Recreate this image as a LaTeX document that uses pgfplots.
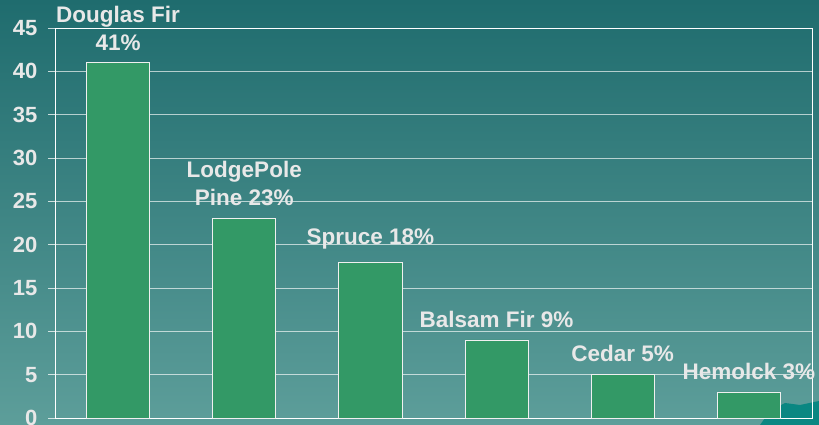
\documentclass[border=0pt]{standalone}
\usepackage{pgfplots}
\pgfplotsset{compat=1.18}
\usepackage{fontspec}
\setmainfont{Liberation Sans}
\definecolor{bgtop}{RGB}{31,108,110}
\definecolor{bgbot}{RGB}{93,158,154}
\definecolor{bargreen}{RGB}{51,153,102}
\definecolor{txt}{RGB}{232,232,232}
\definecolor{blob}{RGB}{10,135,130}
\begin{document}
\begin{tikzpicture}
\useasboundingbox (0,0) rectangle (819pt,425pt);
\shade[top color=bgtop, bottom color=bgbot] (0,0) rectangle (819pt,425pt);
\fill[blob] (760pt,0pt) -- (770pt,14pt) -- (785pt,22pt) -- (800pt,20pt) -- (819pt,24pt) -- (819pt,0pt) -- cycle;
\begin{axis}[
  at={(55pt,7pt)}, anchor=south west, scale only axis,
  width=757pt, height=390pt,
  xmin=-0.5, xmax=5.5, ymin=0, ymax=45,
  ytick={0,5,...,45}, xtick=\empty, ytick pos=left,
  ymajorgrids, grid style={white, opacity=0.65, line width=0.9pt},
  axis line style={white, line width=0.9pt},
  tick style={white, opacity=0.75, line width=0.9pt},
  tick align=outside, major tick length=7pt,
  yticklabel style={text=txt, font=\bfseries\fontsize{22}{26}\selectfont, xshift=-7pt},
  /pgf/number format/assume math mode=true,
  clip=false,
  ybar, bar width=0.5,
]
\addplot[fill=bargreen, draw=white!88!gray, line width=0.9pt,
  point meta=explicit symbolic, nodes near coords,
  nodes near coords style={text=txt, font=\bfseries\fontsize{22.5}{28}\selectfont,
    align=center, anchor=south, inner sep=0pt, yshift=12pt}]
coordinates {
  (0,41) [{Douglas Fir\\41\%}]
  (1,23) [{LodgePole\\Pine 23\%}]
  (2,18) [{Spruce 18\%}]
  (3,9)  [{Balsam Fir 9\%}]
  (4,5)  [{Cedar 5\%}]
  (5,3)  [{Hemolck 3\%}]
};
\end{axis}
\end{tikzpicture}
\end{document}
